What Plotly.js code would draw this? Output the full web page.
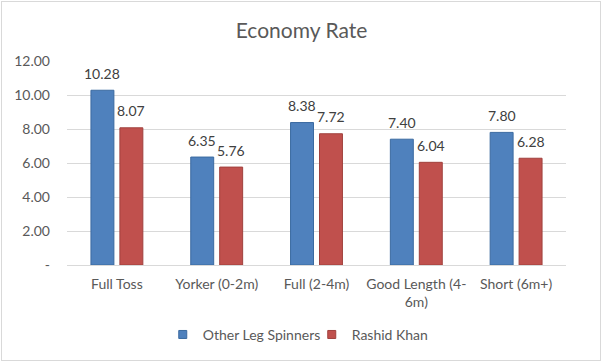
<!DOCTYPE html>
<html><head><meta charset="utf-8">
<script src="https://cdn.plot.ly/plotly-3.0.1.min.js"></script>
<style>
html,body{margin:0;padding:0;background:#fff;}
#wrap{position:relative;width:603px;height:364px;}
#border{position:absolute;left:1px;top:1px;width:598px;height:358px;border:1px solid #d9d9d9;pointer-events:none;}
</style></head>
<body><div id="wrap"><div id="chart" style="width:603px;height:364px;"></div><div id="border"></div></div>
<script>
const categories = ["Full Toss", "Yorker (0-2m)", "Full (2-4m)", "Good Length (4-<br>6m)", "Short (6m+)"];
const otherLegSpinners = [10.28, 6.35, 8.38, 7.40, 7.80];
const rashidKhan = [8.07, 5.76, 7.72, 6.04, 6.28];
const seriesNames = ["Other Leg Spinners", "Rashid Khan"];
const seriesColors = ["#4F81BD", "#C0504D"];
const seriesLines = ["#3B6AA0", "#A0403D"];
const yTickVals = [0, 2, 4, 6, 8, 10, 12];
const yTickText = ["-", "2.00", "4.00", "6.00", "8.00", "10.00", "12.00"];

const FONT = "Lato, 'Open Sans', sans-serif";
const seriesValues = [otherLegSpinners, rashidKhan];
const traces = [];
seriesValues.forEach((vals, si) => {
  traces.push({type:"bar", name:seriesNames[si], x:categories, y:vals, showlegend:false,
    marker:{color:seriesColors[si], line:{color:seriesLines[si], width:1}}, hoverinfo:"none"});
});
seriesValues.forEach((vals, si) => {
  traces.push({type:"scatter", mode:"markers", name:seriesNames[si], x:[null], y:[null], showlegend:true,
    marker:{symbol:"square", size:8, color:seriesColors[si], line:{color:seriesLines[si], width:1}}, hoverinfo:"none"});
});
const annotations = [];
seriesValues.forEach((arr, si) => {
  arr.forEach((v, i) => {
    annotations.push({x:categories[i], y:v, xref:"x", yref:"y", text:v.toFixed(2),
      showarrow:false, xshift: si===0 ? -14.5 : 14.5, yshift:17, yanchor:"middle",
      font:{family:FONT, size:14, color:"#404040"}});
  });
});
const layout = {
  width:603, height:364,
  margin:{l:67, r:37, t:61, b:99},
  paper_bgcolor:"#fff", plot_bgcolor:"#fff",
  font:{family:FONT, color:"#595959", size:14},
  title:{text:"Economy Rate", x:0.5, xref:"container", y:0.915, yref:"container", yanchor:"middle",
    font:{family:FONT, size:21, color:"#595959"}},
  barmode:"group", bargap:0.42, bargroupgap:0.207,
  xaxis:{type:"category", showgrid:false, showline:true, linecolor:"#d9d9d9", linewidth:1,
    ticks:"", ticklabelstandoff:6, tickfont:{family:FONT, size:14, color:"#595959"}, fixedrange:true},
  yaxis:{range:[0,12], tickvals:yTickVals, ticktext:yTickText, showgrid:true, gridcolor:"#d9d9d9",
    gridwidth:1, zeroline:false, showline:false, ticks:"", ticklabelstandoff:16,
    tickfont:{family:FONT, size:14, color:"#595959"}, fixedrange:true},
  showlegend:true,
  legend:{orientation:"h", x:0.517, xref:"container", xanchor:"center", y:0.08, yref:"container", yanchor:"middle",
    font:{family:FONT, size:14, color:"#595959"}, entrywidth:104, traceorder:"normal"},
  annotations:annotations
};
Plotly.newPlot("chart", traces, layout, {displayModeBar:false, staticPlot:true});
</script></body></html>
